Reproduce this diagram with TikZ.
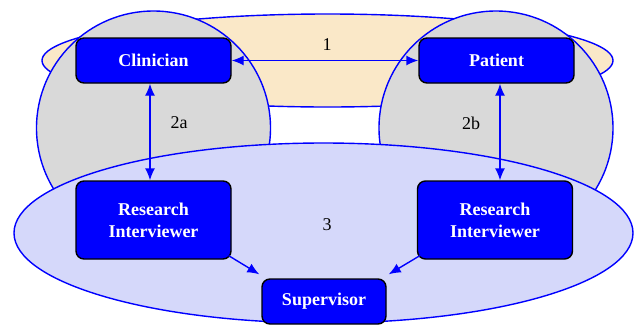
\documentclass[tikz,border=0pt]{standalone}
\usepackage{fontspec}
\setmainfont{Liberation Serif}
\usetikzlibrary{arrows.meta}
\definecolor{orangefill}{RGB}{250,232,200}
\definecolor{grayfill}{RGB}{217,217,217}
\definecolor{lavfill}{RGB}{213,216,250}
\definecolor{pureblue}{RGB}{0,0,255}
\tikzset{
  region/.style={draw=pureblue, line width=1.4pt},
  actor/.style={draw=black, line width=1.4pt, fill=pureblue, rounded corners=8pt,
    text=white, font=\fontsize{18}{22}\selectfont\bfseries, align=center,
    minimum width=155pt, minimum height=45pt, inner sep=0pt},
  link/.style={draw=pureblue, line width=1.4pt, -{Latex[length=12pt,width=10pt]}},
  dlink/.style={draw=pureblue, line width=1.4pt, {Latex[length=12pt,width=10pt]}-{Latex[length=12pt,width=10pt]}},
  lbl/.style={font=\fontsize{18}{22}\selectfont, inner sep=0pt}
}
\begin{document}
\begin{tikzpicture}[x=1pt,y=-1pt]
\useasboundingbox (0,0) rectangle (638,325);
% regions
\draw[region, fill=orangefill] (327.5,60.5) ellipse [x radius=285.5, y radius=46.5];
\draw[region, fill=grayfill] (153.5,128) circle [radius=117];
\draw[region, fill=grayfill] (496,128) circle [radius=117];
\draw[region, fill=lavfill] (323.5,233) ellipse [x radius=309.5, y radius=90];
% nodes
\node[actor] (cli) at (153.5,60.5) {Clinician};
\node[actor] (pat) at (496.5,60.5) {Patient};
\node[actor, minimum height=78pt] (ri1) at (153.5,220) {Research\\Interviewer};
\node[actor, minimum height=78pt] (ri2) at (495,220) {Research\\Interviewer};
\node[actor, minimum width=124pt] (sup) at (324,301.5) {Supervisor};
% connectors
\draw[dlink] (cli.east) -- (pat.west);
\draw[dlink] ([xshift=-3.5pt]cli.south) -- ([xshift=-3.5pt]ri1.north);
\draw[dlink] ([xshift=3.5pt]pat.south) -- ([xshift=5pt]ri2.north);
\draw[link] ([shift={(-3,-4)}]ri1.south east) -- ([shift={(-2,-4)}]sup.north west);
\draw[link] ([shift={(3,-4)}]ri2.south west) -- ([shift={(2,-4)}]sup.north east);
% labels
\node[lbl] (l1) at (327,45) {1};
\node[lbl] (l2a) at (179,123) {2a};
\node[lbl] (l2b) at (471,123) {2b};
\node[lbl] (l3) at (327,225) {3};
\end{tikzpicture}
\end{document}
